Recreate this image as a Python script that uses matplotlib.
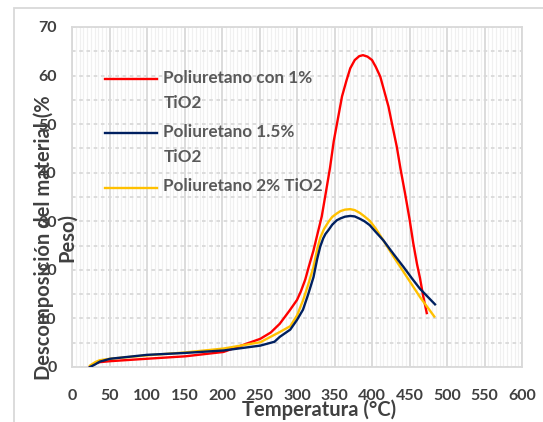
import numpy as np
import matplotlib.pyplot as plt
from matplotlib.legend_handler import HandlerLine2D
from matplotlib.patches import Rectangle
from matplotlib.ticker import MultipleLocator

plt.rcParams['font.family'] = ['Lato', 'DejaVu Sans']
plt.rcParams['font.weight'] = 'bold'

# values (temperature in °C, decomposition in %)
t_1 = [24, 31, 37, 51, 100, 151, 202, 251, 265, 277, 290, 300, 305, 311, 316, 322, 327, 333, 338, 344,
       349, 355, 360, 366, 371, 377, 383, 388, 394, 400, 405, 411, 416, 422, 427, 433, 438, 444, 450,
       455, 460, 464, 468, 473]
y_1 = [0, 0.8, 1.0, 1.2, 1.7, 2.2, 3.1, 5.8, 7.1, 8.9, 11.6, 13.8, 15.5, 18.0, 20.8, 24.0, 27.2, 31.0, 35.5, 41.0,
       46.5, 51.5, 55.7, 59.0, 61.5, 63.2, 64.0, 64.2, 63.9, 63.2, 61.8, 59.8, 57.0, 53.6, 49.8, 45.4, 40.8, 35.8, 30.5,
       25.5, 21.2, 18.3, 14.8, 11.1]

t_15 = [24, 31, 37, 51, 100, 151, 202, 251, 270, 277, 291, 300, 308, 315, 322, 327, 331, 335, 338, 342,
        347, 353, 358, 364, 371, 377, 384, 390, 397, 405, 415, 428, 442, 453, 464, 474, 484]
y_15 = [0, 0.55, 1.1, 1.7, 2.5, 2.9, 3.4, 4.4, 5.2, 6.2, 7.7, 9.7, 11.8, 15.0, 18.5, 22.3, 24.8, 26.5, 27.4, 28.2,
        29.3, 30.2, 30.6, 30.95, 31.1, 31.0, 30.5, 30.0, 29.2, 27.8, 26.1, 23.4, 20.6, 18.3, 16.1, 14.5, 12.9]

t_2 = [24, 31, 37, 51, 100, 151, 202, 251, 277, 291, 300, 308, 315, 322, 327, 331, 336, 342, 347, 353,
       358, 364, 371, 377, 384, 390, 397, 405, 415, 428, 442, 453, 464, 474, 483]
y_2 = [0.3, 1.0, 1.4, 1.7, 2.4, 3.0, 3.8, 5.1, 7.2, 8.4, 10.6, 13.7, 17.0, 20.6, 24.3, 26.6, 28.4, 29.9, 30.9, 31.6,
       32.1, 32.4, 32.5, 32.3, 31.7, 31.0, 30.1, 28.5, 26.1, 22.9, 19.6, 17.0, 14.4, 12.3, 10.4]

labels = ['Poliuretano con 1%\nTiO2', 'Poliuretano 1.5%\nTiO2', 'Poliuretano 2% TiO2\n']
colors = ['#ff0000', '#002060', '#ffc000']

W, H = 543, 422
fig = plt.figure(figsize=(W / 100, H / 100), dpi=100)
ax = fig.add_axes([72 / W, (H - 367) / H, 450 / W, 340 / H])

# outer chart border
fig.patches.append(Rectangle((14 / W, -0.1), 2, (H - 8) / H + 0.1, transform=fig.transFigure,
                             fill=False, ec='#d9d9d9', lw=1.3))

ax.plot(t_1, y_1, color=colors[0], lw=1.7, label=labels[0], zorder=3)
ax.plot(t_15, y_15, color=colors[1], lw=1.7, label=labels[1], zorder=4)
ax.plot(t_2, y_2, color=colors[2], lw=1.7, label=labels[2], zorder=3)

ax.set_xlim(0, 600)
ax.set_ylim(0, 70)
ax.xaxis.set_major_locator(MultipleLocator(50))
ax.xaxis.set_minor_locator(MultipleLocator(5))
ax.yaxis.set_major_locator(MultipleLocator(10))
ax.yaxis.set_minor_locator(MultipleLocator(5))
ax.grid(axis='x', which='minor', color='#f0f0f0', lw=0.9)
ax.grid(axis='x', which='major', color='#d9d9d9', lw=1.3)
ax.grid(axis='y', which='both', color='#d9d9d9', lw=1.3, linestyle=(0, (2, 2)))
ax.set_axisbelow(True)
ax.tick_params(which='both', length=0)
ax.tick_params(axis='x', pad=16, labelsize=11.5, labelcolor='#404040')
ax.tick_params(axis='y', pad=11, labelsize=11.5, labelcolor='#404040')
for s in ax.spines.values():
    s.set_color('#d9d9d9')
    s.set_linewidth(1.3)

fig.text(319 / W, (H - 410) / H, 'Temperatura (°C)', ha='center', va='center',
         fontsize=14.5, color='#404040', fontweight='bold')
fig.text(55 / W, (H - 238) / H, 'Descomposición del material (%\nPeso)', rotation=90,
         ha='center', va='center', multialignment='center', linespacing=1.2,
         fontsize=14.5, color='#404040', fontweight='bold')


class FirstLineHandler(HandlerLine2D):
    # put the legend key beside the first line of a two-line label
    def create_artists(self, legend, orig_handle, xdescent, ydescent, width, height, fontsize, trans):
        arts = super().create_artists(legend, orig_handle, xdescent, ydescent, width, height, fontsize, trans)
        for a in arts:
            a.set_ydata(np.asarray(a.get_ydata(), dtype=float) + 8.6)
        return arts


leg = ax.legend(loc='upper left', bbox_to_anchor=(0.055, 0.9), frameon=False, fontsize=12.3,
                handlelength=3.05, handletextpad=0.35, labelspacing=0.78, borderpad=0,
                handler_map={plt.Line2D: FirstLineHandler()})
for txt in leg.get_texts():
    txt.set_color('#595959')
    txt.set_linespacing(1.7)
for ln in leg.get_lines():
    ln.set_linewidth(1.7)

fig.savefig('out.png', dpi=100)
